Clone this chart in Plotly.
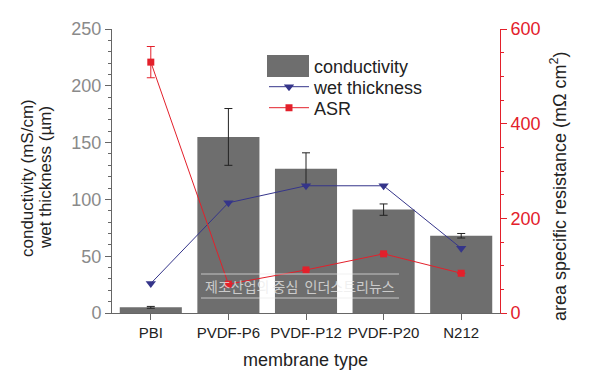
import plotly.graph_objects as go

categories = ["PBI", "PVDF-P6", "PVDF-P12", "PVDF-P20", "N212"]
conductivity = [5, 155, 127, 91, 68]
conductivity_err = [0.8, 25, 14, 5, 2]
wet_thickness = [26, 97, 112, 112, 57]
asr = [530, 61, 91, 125, 84]
asr_err = [33, 0, 0, 0, 0]

GREY = "#8a8a8a"
RED = "#e3202b"
NAVY = "#35358a"
BAR = "#6e6e6e"
AXIS = "#666666"
FONT = "Liberation Sans, Arial, sans-serif"


def px_x(p):
    return (p - 112) / 388.0


def px_y(p):
    return (313 - p) / 284.0


fig = go.Figure()
fig.add_trace(go.Bar(
    x=categories, y=conductivity, name="conductivity", legend="legend",
    marker=dict(color=BAR, line=dict(width=0)), width=0.8,
    error_y=dict(type="data", array=conductivity_err, color="#222222", thickness=1, width=4),
))
fig.add_trace(go.Scatter(
    x=categories, y=wet_thickness, name="wet thickness", mode="lines+markers", legend="legend2",
    line=dict(color=NAVY, width=1),
    marker=dict(symbol="triangle-down", size=9, color=NAVY),
))
fig.add_trace(go.Scatter(
    x=categories, y=asr, name="ASR", mode="lines+markers", yaxis="y2", legend="legend3",
    line=dict(color=RED, width=1),
    marker=dict(symbol="square", size=7, color=RED),
    error_y=dict(type="data", array=asr_err, color=RED, thickness=1, width=4),
))

leg_common = dict(xanchor="left", yanchor="middle", bgcolor="rgba(0,0,0,0)",
                  font=dict(size=18, color="#222222"), itemwidth=40)
LEG_X = px_x(264)

fig.update_layout(
    width=600, height=377,
    margin=dict(l=112, r=100, t=29, b=64, autoexpand=False),
    paper_bgcolor="white", plot_bgcolor="white",
    font=dict(family=FONT, color="#222222"),
    showlegend=True,
    legend=dict(x=LEG_X, y=px_y(66), **leg_common),
    legend2=dict(x=LEG_X, y=px_y(87), **leg_common),
    legend3=dict(x=LEG_X, y=px_y(108), **leg_common),
    bargap=0.2,
    xaxis=dict(
        range=[-0.5, 4.5], showline=True, linecolor=AXIS, linewidth=1,
        ticks="outside", ticklen=6, tickcolor=AXIS,
        tickfont=dict(size=15, color="#222222"), showgrid=False, zeroline=False,
    ),
    xaxis2=dict(
        overlaying="x", side="top", range=[-0.5, 4.5],
        tickvals=list(range(len(categories))), showticklabels=False,
        showline=True, linecolor=AXIS, linewidth=1,
        ticks="inside", ticklen=5, tickcolor=AXIS, showgrid=False, zeroline=False,
    ),
    yaxis=dict(
        range=[0, 250], dtick=50, showline=True, linecolor=AXIS, linewidth=1,
        ticks="outside", ticklen=6, tickcolor=AXIS,
        minor=dict(dtick=10, ticks="outside", ticklen=3, tickcolor=AXIS),
        tickfont=dict(size=18, color=GREY), showgrid=False, zeroline=False,
    ),
    yaxis2=dict(
        range=[0, 600], dtick=200, overlaying="y", side="right",
        showline=True, linecolor=RED, linewidth=1,
        ticks="outside", ticklen=6, tickcolor=RED,
        minor=dict(dtick=50, ticks="outside", ticklen=3, tickcolor=RED),
        tickfont=dict(size=18, color=RED), showgrid=False, zeroline=False,
    ),
)

annotations = [
    dict(text="membrane type", x=px_x(305), y=px_y(360), xref="paper", yref="paper",
         xanchor="center", yanchor="middle", showarrow=False, font=dict(size=18, color="#222222")),
    dict(text="conductivity (mS/cm)", x=px_x(27), y=px_y(178), xref="paper", yref="paper",
         xanchor="center", yanchor="middle", textangle=-90, showarrow=False,
         font=dict(size=17, color="#222222")),
    dict(text="wet thickness (µm)", x=px_x(45), y=px_y(178), xref="paper", yref="paper",
         xanchor="center", yanchor="middle", textangle=-90, showarrow=False,
         font=dict(size=17, color="#222222")),
    dict(text="area specific resistance (mΩ cm<sup>2</sup>)", x=px_x(558), y=px_y(186), xref="paper", yref="paper",
         xanchor="center", yanchor="middle", textangle=-90, showarrow=False,
         font=dict(size=18, color="#222222")),
    dict(text="제조산업의 중심  인더스트리뉴스", x=px_x(300), y=px_y(286), xref="paper", yref="paper",
         xanchor="center", yanchor="middle", showarrow=False,
         font=dict(size=14, color="rgba(235,235,235,0.75)", family="Noto Sans CJK KR")),
]
fig.update_layout(annotations=annotations)
# watermark rules
for yy in (274, 298):
    fig.add_shape(type="line", xref="paper", yref="paper", x0=px_x(201), x1=px_x(399), y0=px_y(yy), y1=px_y(yy),
                  line=dict(color="rgba(235,235,235,0.7)", width=1))
# large legend patch for the bar series
fig.add_shape(type="rect", xref="paper", yref="paper", x0=px_x(267), x1=px_x(309), y0=px_y(77), y1=px_y(55),
              line=dict(width=0), fillcolor=BAR)

fig.write_html("out.html", config={"displayModeBar": False},
               post_script="document.body.style.margin='0';")
